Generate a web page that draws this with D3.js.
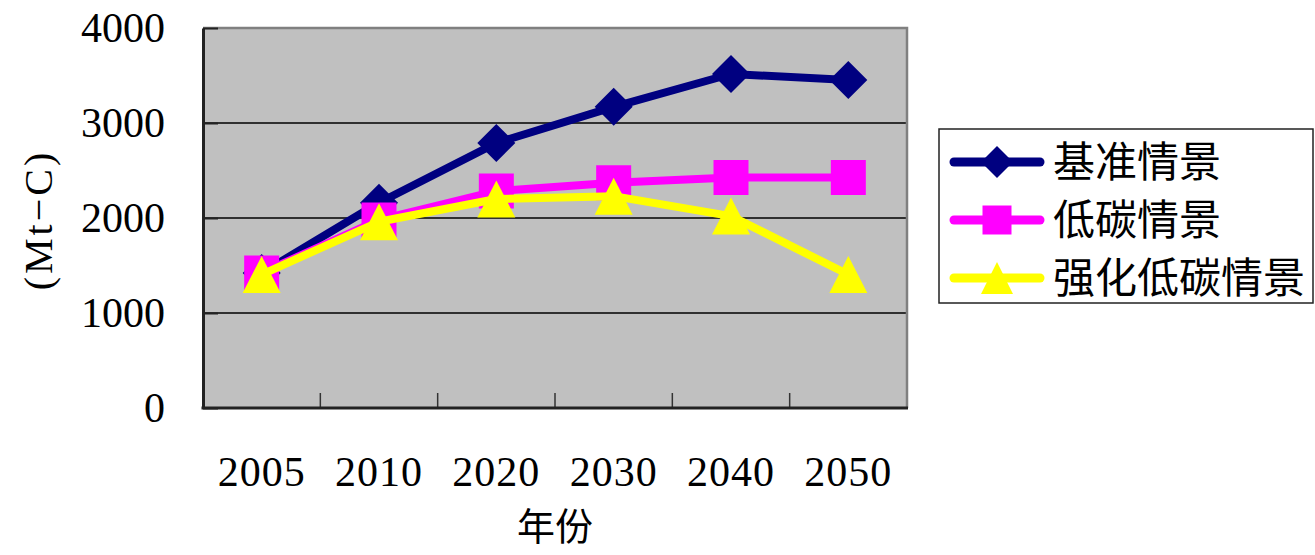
<!DOCTYPE html>
<html>
<head>
<meta charset="utf-8">
<script src="https://cdn.jsdelivr.net/npm/d3@7/dist/d3.min.js"></script>
<style>
  html, body { margin: 0; padding: 0; background: #ffffff; }
  svg { display: block; }
  .num { font-family: "Liberation Serif", "DejaVu Serif", serif; }
  .cjk { font-family: "Noto Sans CJK SC", "Noto Sans", sans-serif; }
</style>
</head>
<body>
<svg id="chart" width="1315" height="555"></svg>
<script>
// Carbon emission scenarios, Mt-C
const years = ["2005", "2010", "2020", "2030", "2040", "2050"];
const seriesNames = ["基准情景", "低碳情景", "强化低碳情景"];
const baseline = [1420, 2160, 2790, 3170, 3516, 3453];
const lowCarbon = [1420, 1980, 2284, 2370, 2426, 2426];
const enhancedLowCarbon = [1405, 1960, 2200, 2230, 2020, 1405];
const yTicks = [0, 1000, 2000, 3000, 4000];
const yTitle = "(Mt−C)";
const xTitle = "年份";

const seriesColors = ["#000080", "#ff00ff", "#ffff00"];
const seriesShapes = ["diamond", "square", "triangle"];
const seriesValues = [baseline, lowCarbon, enhancedLowCarbon];

const plot = { left: 203, right: 907, top: 28, bottom: 408 };

const svg = d3.select("#chart");

const x = d3.scaleBand().domain(years).range([plot.left, plot.right]).padding(0);
const y = d3.scaleLinear().domain([0, 4000]).range([plot.bottom, plot.top]);

// marker path centred on (0,0)
function markerPath(shape) {
  if (shape === "diamond") return "M0,-19L19,0L0,19L-19,0Z";
  if (shape === "square") return "M-17.5,-17.5H17.5V17.5H-17.5Z";
  return "M0,-18.5L19,18.5H-19Z";
}

// plot background
svg.append("rect")
  .attr("x", plot.left).attr("y", plot.top)
  .attr("width", plot.right - plot.left).attr("height", plot.bottom - plot.top)
  .attr("fill", "#c0c0c0");

// gridlines
svg.append("g").selectAll("line")
  .data(yTicks.filter(v => v > 0 && v < 4000))
  .join("line")
  .attr("x1", plot.left).attr("x2", plot.right)
  .attr("y1", d => y(d)).attr("y2", d => y(d))
  .attr("stroke", "#000").attr("stroke-width", 1.3);

// top and right frame
svg.append("path")
  .attr("d", `M${plot.left},${plot.top}H${plot.right}V${plot.bottom}`)
  .attr("fill", "none").attr("stroke", "#808080").attr("stroke-width", 2.5);

// y axis
const yAxis = svg.append("g")
  .attr("transform", `translate(${plot.left},0)`)
  .call(d3.axisLeft(y).tickValues(yTicks).tickFormat(d3.format("d"))
    .tickSize(-15).tickPadding(38).tickSizeOuter(0));
yAxis.select(".domain").attr("stroke", "#222").attr("stroke-width", 3);
yAxis.selectAll(".tick line").attr("stroke", "#222").attr("stroke-width", 2);
yAxis.selectAll(".tick text")
  .attr("class", "num")
  .attr("font-size", 42)
  .attr("fill", "#000")
  .attr("dy", "0.33em");

// x axis: boundary ticks between categories
svg.append("g").selectAll("line")
  .data(years.slice(1))
  .join("line")
  .attr("x1", d => x(d)).attr("x2", d => x(d))
  .attr("y1", plot.bottom).attr("y2", plot.bottom - 15)
  .attr("stroke", "#333").attr("stroke-width", 1.5);
svg.append("line")
  .attr("x1", plot.left - 1.5).attr("x2", plot.right + 1)
  .attr("y1", plot.bottom).attr("y2", plot.bottom)
  .attr("stroke", "#222").attr("stroke-width", 3);

svg.append("g").selectAll("text")
  .data(years)
  .join("text")
  .attr("class", "num")
  .attr("x", d => x(d) + x.bandwidth() / 2)
  .attr("y", 486)
  .attr("text-anchor", "middle")
  .attr("font-size", 42)
  .attr("letter-spacing", 1)
  .text(d => d);

// axis titles
svg.append("text")
  .attr("class", "cjk")
  .attr("x", (plot.left + plot.right) / 2)
  .attr("y", 540)
  .attr("text-anchor", "middle")
  .attr("font-size", 38)
  .text(xTitle);

svg.append("text")
  .attr("class", "num")
  .attr("transform", "translate(52,220) rotate(-90)")
  .attr("text-anchor", "middle")
  .attr("font-size", 40)
  .attr("letter-spacing", 3)
  .text(yTitle);

// series lines and markers
const line = d3.line()
  .x((d, i) => x(years[i]) + x.bandwidth() / 2)
  .y(d => y(d));

seriesValues.forEach((vals, s) => {
  const g = svg.append("g");
  g.append("path")
    .attr("d", line(vals))
    .attr("fill", "none")
    .attr("stroke", seriesColors[s])
    .attr("stroke-width", 8)
    .attr("stroke-linejoin", "round");
  g.selectAll("path.marker")
    .data(vals)
    .join("path")
    .attr("class", "marker")
    .attr("transform", (d, i) => `translate(${x(years[i]) + x.bandwidth() / 2},${y(d)})`)
    .attr("d", markerPath(seriesShapes[s]))
    .attr("fill", seriesColors[s]);
});

// legend
const legend = svg.append("g");
legend.append("rect")
  .attr("x", 939).attr("y", 129)
  .attr("width", 374).attr("height", 174)
  .attr("fill", "#fff").attr("stroke", "#222").attr("stroke-width", 1.5);

const rowY = [162, 220, 278];
seriesNames.forEach((name, s) => {
  const ry = rowY[s];
  legend.append("line")
    .attr("x1", 954).attr("x2", 1040)
    .attr("y1", ry).attr("y2", ry)
    .attr("stroke", seriesColors[s]).attr("stroke-width", 9)
    .attr("stroke-linecap", "round");
  legend.append("path")
    .attr("transform", `translate(997,${ry})`)
    .attr("d", seriesShapes[s] === "diamond" ? "M0,-16L16,0L0,16L-16,0Z"
      : seriesShapes[s] === "square" ? "M-14.5,-14.5H14.5V14.5H-14.5Z"
      : "M0,-16L16,16H-16Z")
    .attr("fill", seriesColors[s]);
  legend.append("text")
    .attr("class", "cjk")
    .attr("x", 1053)
    .attr("y", ry + 15)
    .attr("font-size", 42)
    .text(name);
});
</script>
</body>
</html>
